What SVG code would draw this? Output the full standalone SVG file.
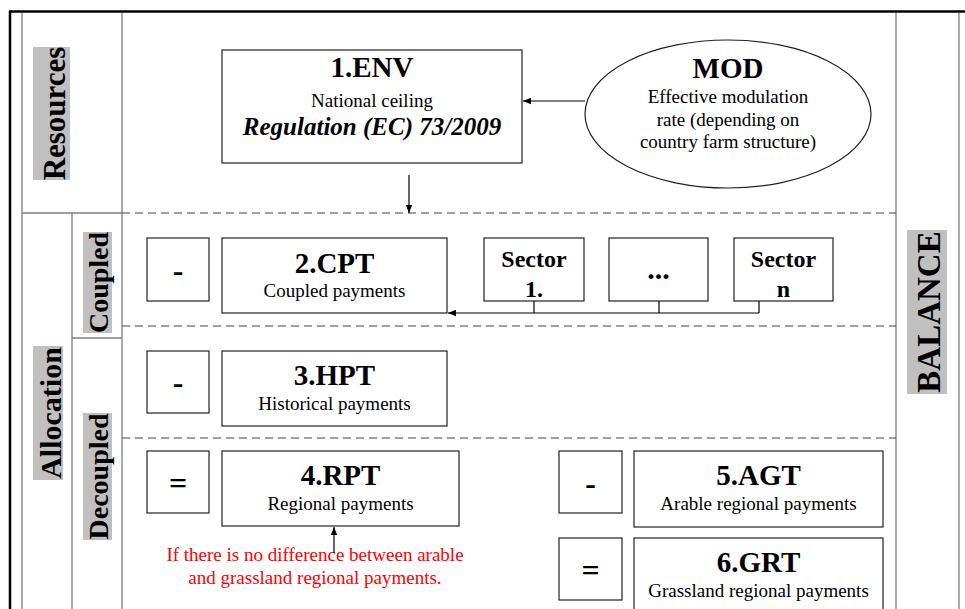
<svg xmlns="http://www.w3.org/2000/svg" width="965" height="609" viewBox="0 0 965 609">
<style>
text{font-family:"Liberation Serif","Times New Roman",serif;fill:#000}
.t{font-size:29px;font-weight:bold;text-anchor:middle}
.s{font-size:19px;text-anchor:middle}
.sec{font-size:24px;font-weight:bold;text-anchor:middle}
.op{font-size:32px;font-weight:bold;text-anchor:middle}
.lab{font-weight:bold;text-anchor:middle}
.frame{stroke:#7f7f7f;stroke-width:1.3;fill:none}
.box{fill:#fff;stroke:#222;stroke-width:1.2}
.dash{stroke:#444;stroke-width:1.2;stroke-dasharray:8 5;fill:none}
.hl{fill:#c0c0c0}
.red{font-size:19px;fill:#ff0000;text-anchor:middle}
.con{stroke:#000;stroke-width:1.2;fill:none}
</style>
<defs>
<marker id="ah" viewBox="0 0 10 10" refX="10" refY="5" markerWidth="8" markerHeight="8" markerUnits="userSpaceOnUse" orient="auto">
<path d="M0,1 L10,5 L0,9 Z" fill="#000"/>
</marker>
</defs>
<rect width="965" height="609" fill="#fff"/>
<g id="frame">
<line x1="9" y1="11.5" x2="965" y2="11.5" stroke="#000" stroke-width="2.5"/>
<line x1="10" y1="11" x2="10" y2="609" stroke="#000" stroke-width="2.5"/>
<line class="frame" x1="22" y1="13" x2="22" y2="609"/>
<line class="frame" x1="122" y1="13" x2="122" y2="609"/>
<line class="frame" x1="72" y1="213" x2="72" y2="609"/>
<line class="frame" x1="22" y1="213" x2="122" y2="213"/>
<line class="frame" x1="72" y1="338" x2="122" y2="338"/>
<line class="frame" x1="896" y1="13" x2="896" y2="609"/>
<line class="frame" x1="959" y1="13" x2="959" y2="609"/>
<line class="dash" x1="122" y1="213" x2="896" y2="213"/>
<line class="dash" x1="122" y1="326" x2="896" y2="326"/>
<line class="dash" x1="122" y1="438" x2="896" y2="438"/>
</g>
<g id="labels">
<rect class="hl" x="33" y="47" width="37" height="133"/>
<text class="lab" font-size="31" transform="translate(65,113.5) rotate(-90)">Resources</text>
<rect class="hl" x="33" y="346" width="30" height="134"/>
<text class="lab" font-size="30" transform="translate(61,413) rotate(-90)">Allocation</text>
<rect class="hl" x="83" y="232" width="29" height="101"/>
<text class="lab" font-size="28" transform="translate(108,282.5) rotate(-90)">Coupled</text>
<rect class="hl" x="83" y="413" width="29" height="127"/>
<text class="lab" font-size="28" transform="translate(108,476.5) rotate(-90)">Decoupled</text>
<rect class="hl" x="907" y="230" width="40" height="164"/>
<text class="lab" font-size="33" transform="translate(940,312) rotate(-90)">BALANCE</text>
</g>
<g id="env">
<rect class="box" x="222" y="50" width="300" height="113"/>
<text class="t" x="372" y="77">1.ENV</text>
<text class="s" x="372" y="107">National ceiling</text>
<text x="372" y="135" font-size="25" font-weight="bold" font-style="italic" text-anchor="middle">Regulation (EC) 73/2009</text>
</g>
<g id="mod">
<ellipse cx="728" cy="114" rx="143" ry="74" fill="#fff" stroke="#222" stroke-width="1.2"/>
<text class="t" x="728" y="78">MOD</text>
<text class="s" x="728" y="103">Effective modulation</text>
<text class="s" x="728" y="126">rate (depending on</text>
<text class="s" x="728" y="148">country farm structure)</text>
</g>
<g id="op1">
<rect class="box" x="147" y="238" width="62" height="63"/>
<text class="op" x="178" y="281">-</text>
</g>
<g id="cpt">
<rect class="box" x="222" y="238" width="225" height="75"/>
<text class="t" x="334.5" y="273">2.CPT</text>
<text class="s" x="334.5" y="297">Coupled payments</text>
</g>
<g id="sector1">
<rect class="box" x="484" y="238" width="100" height="63"/>
<text class="sec" x="534" y="267">Sector</text>
<text class="sec" x="534" y="297">1.</text>
</g>
<g id="sectordots">
<rect class="box" x="609" y="238" width="99" height="63"/>
<text x="658.5" y="279" font-size="30" font-weight="bold" text-anchor="middle">...</text>
</g>
<g id="sectorn">
<rect class="box" x="734" y="238" width="99" height="63"/>
<text class="sec" x="783.5" y="267">Sector</text>
<text class="sec" x="783.5" y="297">n</text>
</g>
<g id="op2">
<rect class="box" x="147" y="351" width="62" height="62"/>
<text class="op" x="178" y="393">-</text>
</g>
<g id="hpt">
<rect class="box" x="222" y="351" width="225" height="75"/>
<text class="t" x="334.5" y="385">3.HPT</text>
<text class="s" x="334.5" y="410">Historical payments</text>
</g>
<g id="op3">
<rect class="box" x="147" y="451" width="62" height="62"/>
<text class="op" x="178" y="494">=</text>
</g>
<g id="rpt">
<rect class="box" x="222" y="451" width="237" height="75"/>
<text class="t" x="340.5" y="485">4.RPT</text>
<text class="s" x="340.5" y="510">Regional payments</text>
</g>
<g id="note">
<text class="red" x="315" y="561">If there is no difference between arable</text>
<text class="red" x="315" y="584">and grassland regional payments.</text>
</g>
<g id="op4">
<rect class="box" x="559" y="451" width="63" height="62"/>
<text class="op" x="590.5" y="494">-</text>
</g>
<g id="agt">
<rect class="box" x="634" y="451" width="249" height="76"/>
<text class="t" x="758.5" y="485">5.AGT</text>
<text class="s" x="758.5" y="510">Arable regional payments</text>
</g>
<g id="op5">
<rect class="box" x="559" y="538" width="63" height="62"/>
<text class="op" x="590.5" y="581">=</text>
</g>
<g id="grt">
<rect class="box" x="634" y="538" width="249" height="80"/>
<text class="t" x="758.5" y="572">6.GRT</text>
<text class="s" x="758.5" y="597">Grassland regional payments</text>
</g>
<g id="connectors">
<line class="con" x1="585" y1="101" x2="523" y2="101" marker-end="url(#ah)"/>
<line class="con" x1="409" y1="175" x2="409" y2="213" marker-end="url(#ah)"/>
<line class="con" x1="534" y1="301" x2="534" y2="313"/>
<line class="con" x1="659" y1="301" x2="659" y2="313"/>
<line class="con" x1="759" y1="301" x2="759" y2="313"/>
<line class="con" x1="759" y1="313" x2="448" y2="313" marker-end="url(#ah)"/>
<line class="con" x1="334" y1="553" x2="334" y2="527" marker-end="url(#ah)"/>
</g>
</svg>
